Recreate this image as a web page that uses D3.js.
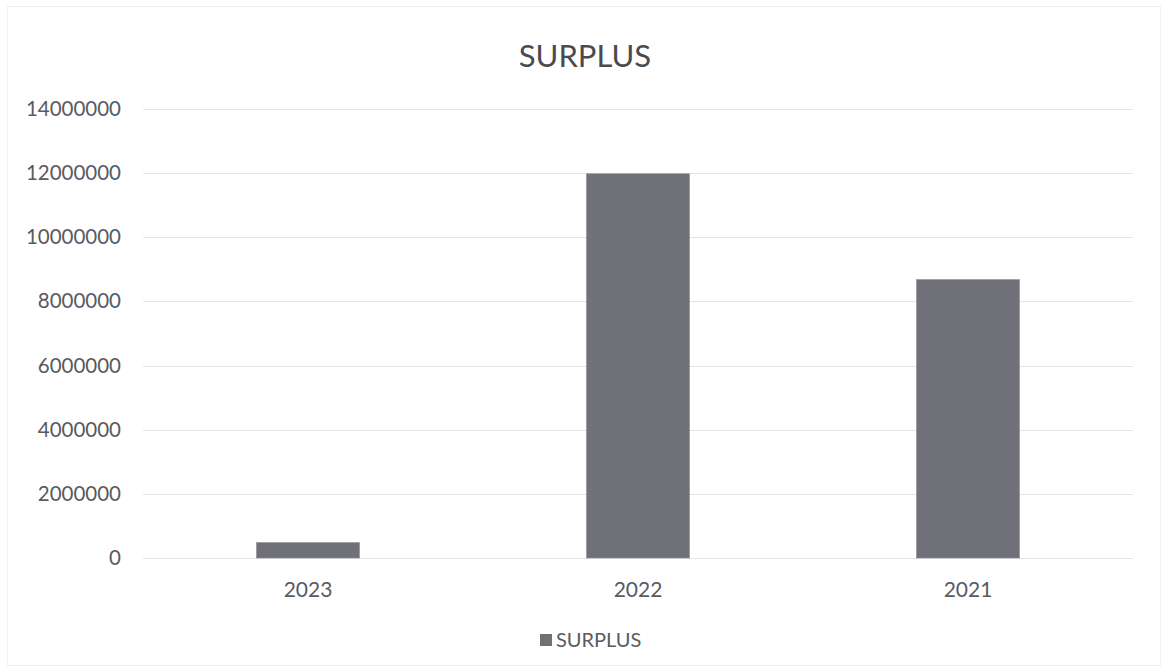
<!DOCTYPE html>
<html>
<head>
<meta charset="utf-8">
<script src="https://cdn.jsdelivr.net/npm/d3@7"></script>
<style>
  html, body { margin: 0; padding: 0; background: #fff; }
  svg { display: block; font-family: Lato, "Open Sans", sans-serif; }
</style>
</head>
<body>
<svg id="chart" width="1168" height="672"></svg>
<script>
// Surplus by year
const categories = ["2023", "2022", "2021"];
const surplus = [480000, 11980000, 8680000];
const tickValues = [0, 2000000, 4000000, 6000000, 8000000, 10000000, 12000000, 14000000];
const seriesName = "SURPLUS";
const chartTitle = "SURPLUS";

const svg = d3.select("#chart");
const W = 1168, H = 672;
const margin = { left: 143, right: 35, top: 109, bottom: 114 };

// faint outer frame
svg.append("rect")
  .attr("x", 7.5).attr("y", 6.5)
  .attr("width", W - 15).attr("height", H - 13)
  .attr("fill", "none").attr("stroke", "#f0f0f0").attr("stroke-width", 1);

const x = d3.scaleBand()
  .domain(categories)
  .range([margin.left, W - margin.right])
  .paddingInner(0.688)
  .paddingOuter(0.344);

const y = d3.scaleLinear()
  .domain([0, 14000000])
  .range([H - margin.bottom, margin.top]);

// gridlines
svg.append("g")
  .selectAll("line")
  .data(tickValues)
  .join("line")
  .attr("x1", margin.left).attr("x2", W - margin.right)
  .attr("y1", d => Math.round(y(d)) + 0.5)
  .attr("y2", d => Math.round(y(d)) + 0.5)
  .attr("stroke", "#e3e3e8").attr("stroke-width", 1);

// y axis labels
const yAxis = d3.axisLeft(y).tickValues(tickValues).tickSize(0).tickPadding(0)
  .tickFormat(d3.format("d"));
svg.append("g")
  .attr("transform", `translate(121,0)`)
  .call(yAxis)
  .call(g => g.select(".domain").remove())
  .call(g => g.selectAll("text")
    .attr("fill", "#5a5a5f")
    .style("font-size", "20.5px")
    .style("font-family", "Lato, 'Open Sans', sans-serif"));

// bars
svg.append("g")
  .selectAll("rect")
  .data(categories.map((c, i) => ({ c, v: surplus[i] })))
  .join("rect")
  .attr("x", d => x(d.c))
  .attr("width", x.bandwidth())
  .attr("y", d => y(d.v))
  .attr("height", d => y(0) - y(d.v))
  .attr("fill", "#707079")
  .attr("stroke", "#8a8a92")
  .attr("stroke-width", 0.6);

// x axis labels
const xAxis = d3.axisBottom(x).tickSize(0).tickPadding(0);
svg.append("g")
  .attr("transform", `translate(0,${H - margin.bottom + 24})`)
  .call(xAxis)
  .call(g => g.select(".domain").remove())
  .call(g => g.selectAll("text")
    .attr("fill", "#5a5a5f")
    .attr("dy", "0.71em")
    .style("font-size", "21px")
    .style("font-family", "Lato, 'Open Sans', sans-serif"));

// title
svg.append("text")
  .attr("x", 585).attr("y", 67)
  .attr("text-anchor", "middle")
  .attr("fill", "#4a4a4f")
  .style("font-size", "31px")
  .text(chartTitle);

// legend
const lg = svg.append("g").attr("transform", "translate(540,634)");
lg.append("rect").attr("x", 0).attr("y", 0).attr("width", 12).attr("height", 12)
  .attr("fill", "#707079");
lg.append("text").attr("x", 16).attr("y", 13)
  .attr("fill", "#5a5a5f")
  .style("font-size", "20px")
  .text(seriesName);
</script>
</body>
</html>
